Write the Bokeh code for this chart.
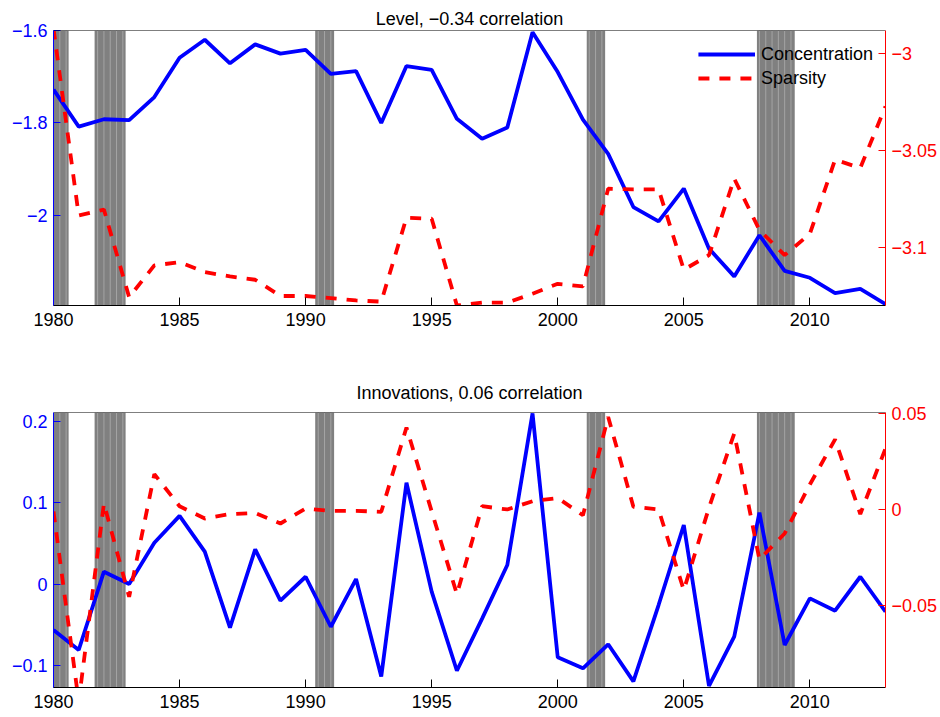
import numpy as np
from bokeh.plotting import figure
from bokeh.models import (Range1d, LinearAxis, FixedTicker, CustomJSTickFormatter,
                          BoxAnnotation, Span, Legend, LegendItem)
from bokeh.layouts import column
from bokeh.embed import file_html
from bokeh.resources import INLINE

# ---------------- data ----------------
years = list(range(1980, 2014))

level_concentration = [-1.728, -1.808, -1.792, -1.794, -1.744, -1.659, -1.620, -1.671, -1.630, -1.650,
                       -1.642, -1.694, -1.688, -1.800, -1.677, -1.685, -1.791, -1.834, -1.810, -1.604,
                       -1.690, -1.793, -1.867, -1.982, -2.013, -1.942, -2.072, -2.132, -2.043, -2.120,
                       -2.135, -2.168, -2.159, -2.192]
level_sparsity = [-2.987, -3.0835, -3.0805, -3.1257, -3.1093, -3.1076, -3.1128, -3.115, -3.1167, -3.1251,
                  -3.1251, -3.1262, -3.1274, -3.128, -3.0847, -3.0852, -3.130, -3.1285, -3.1285, -3.1239,
                  -3.1188, -3.1201, -3.0697, -3.070, -3.070, -3.1115, -3.104, -3.0645, -3.091, -3.104,
                  -3.093, -3.0547, -3.059, -3.0272]
innov_concentration = [-0.056, -0.0805, 0.0155, 0.0004, 0.051, 0.084, 0.040, -0.053, 0.043, -0.020,
                       0.0093, -0.052, 0.0065, -0.113, 0.1245, -0.009, -0.106, -0.042, 0.0237, 0.2096,
                       -0.0895, -0.103, -0.0735, -0.119, -0.0254, 0.0727, -0.1246, -0.064, 0.0878, -0.0744,
                       -0.0172, -0.0323, 0.0093, -0.0336]
innov_sparsity = [-0.001, -0.100, 0.0031, -0.0455, 0.0184, 0.0017, -0.0047, -0.0024, -0.0018, -0.0073,
                  0.0005, -0.0007, -0.0007, -0.0012, 0.0427, -0.001, -0.0441, 0.0017, 0.0, 0.0043,
                  0.006, -0.003, 0.0482, 0.0014, 0.0, -0.042, 0.001, 0.0396, -0.026, -0.0125,
                  0.013, 0.0365, -0.0024, 0.0318]

recessions = [(1980.0, 1980.6), (1981.63, 1982.86), (1990.38, 1991.13), (2001.15, 2001.88), (2007.90, 2009.40)]

x_ticks = [1980, 1985, 1990, 1995, 2000, 2005, 2010]
level_left_ticks = [-2.0, -1.8, -1.6]
level_right_ticks = [-3.1, -3.05, -3.0]
innov_left_ticks = [-0.1, 0.0, 0.1, 0.2]
innov_right_ticks = [-0.05, 0.0, 0.05]

level_title = "Level, \u22120.34 correlation"
innov_title = "Innovations, 0.06 correlation"
series_names = ["Concentration", "Sparsity"]

# ---------------- styling / layout ----------------
FONT = "Liberation Sans"
FS = "18px"
BLUE = "#0000ff"
RED = "#ff0000"
MINUS_JS = "return String(tick).replace('-', '\\u2212');"
FIG_W = 940
BORDER_L, BORDER_R = 53, 54
FRAME_H = 275


def style_axis(ax, color, tick_len):
    ax.axis_line_color = color
    ax.axis_line_width = 1
    ax.major_tick_line_color = color
    ax.major_tick_in = tick_len
    ax.major_tick_out = 0
    ax.minor_tick_line_color = None
    ax.major_label_text_color = color
    ax.major_label_text_font = FONT
    ax.major_label_text_font_size = FS


def make_panel(title, left_range, right_range, left_ticks, right_ticks, conc, spars,
               top_border, bottom_border, title_valign, title_standoff, title_lh):
    height = top_border + FRAME_H + bottom_border
    p = figure(width=FIG_W, height=height, x_range=Range1d(years[0], years[-1]),
               y_range=Range1d(*left_range), output_backend="svg", toolbar_location=None,
               min_border_left=BORDER_L, min_border_right=BORDER_R, min_border_top=top_border,
               min_border_bottom=bottom_border, title=title)
    p.extra_y_ranges = {"right": Range1d(*right_range)}
    p.title.align = "center"
    p.title.vertical_align = title_valign
    p.title.text_font = FONT
    p.title.text_font_size = FS
    p.title.text_font_style = "normal"
    p.title.text_color = "black"
    p.title.text_line_height = title_lh
    p.title.standoff = title_standoff
    p.outline_line_color = None
    p.xgrid.visible = False
    p.ygrid.visible = False
    p.background_fill_color = "white"
    p.border_fill_color = "white"

    xa = p.xaxis[0]
    style_axis(xa, "black", 8)
    xa.ticker = FixedTicker(ticks=x_ticks)
    xa.major_label_standoff = 7

    ya = p.yaxis[0]
    style_axis(ya, BLUE, 7)
    ya.ticker = FixedTicker(ticks=left_ticks)
    ya.formatter = CustomJSTickFormatter(code=MINUS_JS)
    ya.major_label_standoff = 6

    ra = LinearAxis(y_range_name="right")
    style_axis(ra, RED, 7)
    ra.ticker = FixedTicker(ticks=right_ticks)
    ra.formatter = CustomJSTickFormatter(code=MINUS_JS)
    ra.major_label_standoff = 6
    p.add_layout(ra, "right")

    for s, e in recessions:
        p.add_layout(BoxAnnotation(left=s, right=e, fill_color="#808080", fill_alpha=1.0,
                                   line_color=None, level="underlay"))
        q = np.ceil(s * 4) / 4
        while q < e - 0.05:
            if q > s + 0.05:
                p.add_layout(Span(location=q, dimension="height", line_color="#a4a4a4",
                                  line_width=1, level="underlay"))
            q += 0.25

    r1 = p.line(years, conc, line_color=BLUE, line_width=3.8)
    r2 = p.line(years, spars, line_color=RED, line_width=3.8, line_dash="11 10",
                y_range_name="right")

    p.add_layout(Span(location=left_range[1], dimension="width", line_color="black", line_width=1))
    return p, r1, r2


p1, a1, b1 = make_panel(level_title, (-2.195, -1.6), (-3.130, -2.988), level_left_ticks,
                        level_right_ticks, level_concentration, level_sparsity, 30, 60, "top", 0, 0.5)
p2, a2, b2 = make_panel(innov_title, (-0.1265, 0.2107), (-0.0927, 0.0505), innov_left_ticks,
                        innov_right_ticks, innov_concentration, innov_sparsity, 47, 30, "bottom", 19, 1.0)

legend = Legend(items=[LegendItem(label=series_names[0], renderers=[a1]),
                       LegendItem(label=series_names[1], renderers=[b1])],
                location="top_right", background_fill_alpha=0, border_line_color=None,
                label_text_font=FONT, label_text_font_size=FS, label_text_color="black",
                glyph_width=57, glyph_height=24, label_height=24, spacing=0, padding=0,
                margin=12, label_standoff=6)
p1.add_layout(legend)

layout = column(p1, p2, spacing=0)
open("out.html", "w").write(file_html(layout, INLINE))
